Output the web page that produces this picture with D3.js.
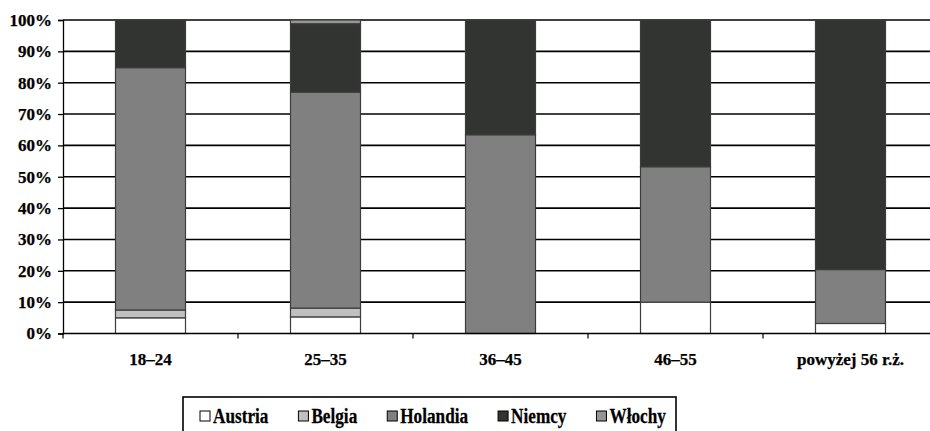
<!DOCTYPE html>
<html>
<head>
<meta charset="utf-8">
<script src="https://cdn.jsdelivr.net/npm/d3@7"></script>
<style>
  html, body { margin: 0; padding: 0; background: #fff; }
  svg { display: block; }
  text { font-family: "Liberation Serif", "Times New Roman", serif; font-weight: bold; fill: #000; }
</style>
</head>
<body>
<svg id="chart" width="930" height="431"></svg>
<script>
// Age groups along the x axis
const categories = ["18–24", "25–35", "36–45", "46–55", "powyżej 56 r.ż."];

// Share of each country per age group (percent)
const austria  = [5.0, 5.3, 0, 10.0, 3.2];
const belgia   = [2.5, 2.8, 0, 0, 0];
const holandia = [77.3, 68.9, 63.4, 43.2, 17.2];
const niemcy   = [15.2, 21.8, 36.6, 46.8, 79.6];
const wlochy   = [0, 1.2, 0, 0, 0];

const seriesNames = ["Austria", "Belgia", "Holandia", "Niemcy", "Włochy"];
const seriesValues = [austria, belgia, holandia, niemcy, wlochy];
const seriesColors = ["#ffffff", "#c0c0c0", "#808080", "#323432", "#969696"];

const yTicks = [0, 10, 20, 30, 40, 50, 60, 70, 80, 90, 100];

const rows = categories.map((c, i) => {
  const r = { category: c };
  seriesNames.forEach((s, j) => { r[s] = seriesValues[j][i]; });
  return r;
});

const FONT = '"Liberation Serif", "Times New Roman", serif';
const svg = d3.select("#chart");
const plotLeft = 63, plotRight = 938, plotTop = 20, plotBottom = 333.5;

const x = d3.scaleBand().domain(categories).range([plotLeft, plotRight]).paddingInner(0.6).paddingOuter(0.3);
const y = d3.scaleLinear().domain([0, 100]).range([plotBottom, plotTop]);

// horizontal gridlines
svg.append("g")
  .selectAll("line")
  .data(yTicks.filter(t => t > 0))
  .join("line")
  .attr("x1", plotLeft).attr("x2", plotRight)
  .attr("y1", d => y(d)).attr("y2", d => y(d))
  .attr("stroke", "#000").attr("stroke-width", 1.6);

// stacked bars
const stack = d3.stack().keys(seriesNames);
const layers = stack(rows);
svg.append("g")
  .selectAll("g")
  .data(layers)
  .join("g")
  .attr("fill", (d, i) => seriesColors[i])
  .selectAll("rect")
  .data(d => d.filter(p => p[1] - p[0] > 0))
  .join("rect")
  .attr("x", d => x(d.data.category))
  .attr("width", x.bandwidth())
  .attr("y", d => y(d[1]))
  .attr("height", d => y(d[0]) - y(d[1]))
  .attr("stroke", "#3c3c3c")
  .attr("stroke-width", 1.2);

// y axis
const yAxis = d3.axisLeft(y).tickValues(yTicks).tickFormat(d => d + "%").tickSize(5).tickPadding(6);
const gy = svg.append("g").attr("transform", `translate(${plotLeft},0)`).call(yAxis);
gy.attr("font-family", null).attr("font-size", null);
gy.select(".domain").attr("stroke", "#000").attr("stroke-width", 1.3);
gy.selectAll(".tick line").attr("stroke", "#000").attr("stroke-width", 1.3);
gy.selectAll(".tick text")
  .style("font-family", FONT)
  .style("font-weight", "bold").style("font-size", "17px")
  .attr("fill", "#000").attr("stroke", "#000").attr("stroke-width", 0.25);

// x axis: baseline plus boundary ticks between groups
svg.append("line")
  .attr("x1", plotLeft).attr("x2", plotRight)
  .attr("y1", plotBottom).attr("y2", plotBottom)
  .attr("stroke", "#000").attr("stroke-width", 1.3);
const step = x.step();
const boundaries = d3.range(categories.length + 1).map(i => plotLeft + i * step);
svg.append("g").selectAll("line")
  .data(boundaries)
  .join("line")
  .attr("x1", d => d).attr("x2", d => d)
  .attr("y1", plotBottom).attr("y2", plotBottom + 5)
  .attr("stroke", "#000").attr("stroke-width", 1.2);

svg.append("g").selectAll("text")
  .data(categories)
  .join("text")
  .attr("x", d => x(d) + x.bandwidth() / 2)
  .attr("y", 365)
  .attr("text-anchor", "middle")
  .style("font-family", FONT)
  .style("font-size", "17px")
  .attr("stroke", "#000").attr("stroke-width", 0.25)
  .text(d => d);

// legend (narrow, tall lettering)
const legend = svg.append("g");
legend.append("rect")
  .attr("x", 183).attr("y", 397)
  .attr("width", 493).attr("height", 50)
  .attr("fill", "#fff").attr("stroke", "#000").attr("stroke-width", 1.6);

const squeeze = 0.86;
let lx = 200;
seriesNames.forEach((name, i) => {
  const item = legend.append("g");
  item.append("rect")
    .attr("x", lx).attr("y", 411)
    .attr("width", 10).attr("height", 10)
    .attr("fill", seriesColors[i])
    .attr("stroke", "#000").attr("stroke-width", 1);
  const t = item.append("text")
    .attr("transform", `translate(${lx + 13},423) scale(${squeeze},1)`)
    .style("font-family", FONT)
    .style("font-size", "20px")
    .attr("stroke", "#000").attr("stroke-width", 0.25)
    .text(name);
  lx += 13 + t.node().getComputedTextLength() * squeeze + 30;
});
</script>
</body>
</html>
